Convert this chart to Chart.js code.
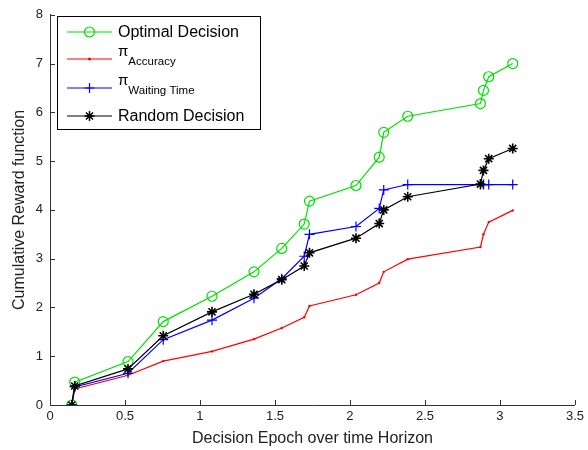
<!DOCTYPE html>
<html>
<head>
<meta charset="utf-8">
<script src="https://cdn.jsdelivr.net/npm/chart.js@4.4.0/dist/chart.umd.min.js"></script>
<style>
html,body{margin:0;padding:0;background:#fff;}
#wrap{position:relative;width:588px;height:450px;}
</style>
</head>
<body>
<div id="wrap"><canvas id="c" width="588" height="450"></canvas></div>
<script>
const epochs = [0.145, 0.165, 0.52, 0.755, 1.08, 1.36, 1.545, 1.695, 1.73, 2.04, 2.195, 2.225, 2.385, 2.87, 2.89, 2.925, 3.085];
const optimalDecision = [0, 0.47, 0.89, 1.71, 2.23, 2.73, 3.21, 3.71, 4.18, 4.5, 5.08, 5.59, 5.92, 6.18, 6.45, 6.73, 7.0];
const piAccuracy = [0, 0.33, 0.61, 0.9, 1.1, 1.35, 1.58, 1.8, 2.03, 2.26, 2.5, 2.73, 2.99, 3.24, 3.5, 3.75, 3.99];
const piWaitingTime = [0, 0.37, 0.65, 1.34, 1.74, 2.19, 2.59, 3.05, 3.5, 3.66, 4.03, 4.41, 4.52, 4.52, 4.52, 4.52, 4.52];
const randomDecision = [0, 0.39, 0.74, 1.42, 1.91, 2.27, 2.57, 2.85, 3.12, 3.42, 3.72, 4.0, 4.27, 4.53, 4.81, 5.05, 5.26];
const xTicks = [0, 0.5, 1, 1.5, 2, 2.5, 3, 3.5];
const yTicks = [0, 1, 2, 3, 4, 5, 6, 7, 8];
const xTitle = 'Decision Epoch over time Horizon';
const yTitle = 'Cumulative Reward function';
const legendItems = [
  {main: 'Optimal Decision', sub: '', color: '#00e000', style: 'circle', r: 5},
  {main: 'π', sub: 'Accuracy', color: '#ff0000', style: 'dot', r: 1.5},
  {main: 'π', sub: 'Waiting Time', color: '#0000ff', style: 'cross', r: 5},
  {main: 'Random Decision', sub: '', color: '#000000', style: 'star', r: 5}
];

const FONT = '"Liberation Sans", Arial, Helvetica, sans-serif';
const pts = arr => epochs.map((x, i) => ({x: x, y: arr[i]}));

const innerTicks = {
  id: 'innerTicks',
  afterDraw(chart) {
    const ctx = chart.ctx, xs = chart.scales.x, ys = chart.scales.y;
    const a = chart.chartArea;
    ctx.save();
    ctx.strokeStyle = '#333';
    ctx.lineWidth = 1;
    ctx.beginPath();
    xTicks.forEach(v => {
      const px = Math.round(xs.getPixelForValue(v)) + 0.5;
      ctx.moveTo(px, a.bottom); ctx.lineTo(px, a.bottom - 5);
    });
    yTicks.forEach(v => {
      const py = Math.round(ys.getPixelForValue(v)) + 0.5;
      ctx.moveTo(a.left, py); ctx.lineTo(a.left + 5, py);
    });
    ctx.stroke();
    ctx.restore();
  }
};

function drawMarker(ctx, style, x, y, r, color) {
  ctx.save();
  ctx.strokeStyle = color; ctx.fillStyle = color;
  ctx.beginPath();
  if (style === 'circle') {
    ctx.lineWidth = 1.2;
    ctx.arc(x, y, r, 0, Math.PI * 2); ctx.stroke();
  } else if (style === 'dot') {
    ctx.arc(x, y, r, 0, Math.PI * 2); ctx.fill();
  } else if (style === 'cross') {
    ctx.lineWidth = 1.2;
    ctx.moveTo(x - r, y); ctx.lineTo(x + r, y);
    ctx.moveTo(x, y - r); ctx.lineTo(x, y + r); ctx.stroke();
  } else if (style === 'star') {
    ctx.lineWidth = 1.5;
    for (let k = 0; k < 4; k++) {
      const ang = k * Math.PI / 4;
      ctx.moveTo(x - r * Math.cos(ang), y - r * Math.sin(ang));
      ctx.lineTo(x + r * Math.cos(ang), y + r * Math.sin(ang));
    }
    ctx.stroke();
  }
  ctx.restore();
}

const customLegend = {
  id: 'customLegend',
  afterDraw(chart) {
    const ctx = chart.ctx;
    const bx = 57.5, by = 16.5, bw = 203, bh = 113;
    ctx.save();
    ctx.fillStyle = '#fff';
    ctx.fillRect(bx, by, bw, bh);
    ctx.strokeStyle = '#000';
    ctx.lineWidth = 1;
    ctx.strokeRect(bx, by, bw, bh);
    const rows = [32, 59, 88, 116];
    legendItems.forEach((it, i) => {
      const y = rows[i];
      ctx.strokeStyle = it.color;
      ctx.lineWidth = 1.2;
      ctx.beginPath(); ctx.moveTo(67, y); ctx.lineTo(112, y); ctx.stroke();
      drawMarker(ctx, it.style, 89.5, y, it.r, it.color);
      ctx.fillStyle = '#000';
      ctx.textBaseline = 'middle';
      ctx.textAlign = 'left';
      if (!it.sub) {
        ctx.font = '16px ' + FONT;
        ctx.fillText(it.main, 118, y + 1);
      } else {
        ctx.font = '15px ' + FONT;
        ctx.fillText(it.main, 118, y - 7);
        const w = ctx.measureText(it.main).width;
        ctx.font = '11.5px ' + FONT;
        ctx.fillText(it.sub, 118 + w, y + 3);
      }
    });
    ctx.restore();
  }
};

new Chart(document.getElementById('c'), {
  type: 'line',
  data: {
    datasets: [
      {label: 'Optimal Decision', data: pts(optimalDecision), borderColor: '#00e000', backgroundColor: 'rgba(0,0,0,0)',
       pointStyle: 'circle', pointRadius: 5, pointBorderWidth: 1.2, pointBorderColor: '#00e000', borderWidth: 1.2, order: 3},
      {label: 'πAccuracy', data: pts(piAccuracy), borderColor: '#ff0000', backgroundColor: '#ff0000',
       pointStyle: 'circle', pointRadius: 1.2, pointBorderWidth: 0, borderWidth: 1.2, order: 2},
      {label: 'πWaiting Time', data: pts(piWaitingTime), borderColor: '#0000ff', backgroundColor: '#0000ff',
       pointStyle: 'cross', pointRadius: 5, pointBorderWidth: 1.2, pointBorderColor: '#0000ff', borderWidth: 1.2, order: 1},
      {label: 'Random Decision', data: pts(randomDecision), borderColor: '#000000', backgroundColor: '#000000',
       pointStyle: 'star', pointRadius: 5, pointBorderWidth: 1.6, pointBorderColor: '#000000', borderWidth: 1.2, order: 0}
    ]
  },
  options: {
    responsive: false,
    animation: false,
    events: [],
    layout: {padding: {top: 14, right: 13, left: 0, bottom: 0}},
    plugins: {legend: {display: false}, tooltip: {enabled: false}},
    elements: {line: {tension: 0}},
    scales: {
      x: {
        type: 'linear', min: 0, max: 3.5,
        afterBuildTicks: s => { s.ticks = xTicks.map(v => ({value: v})); },
        afterFit: s => { s.height = 45; },
        grid: {display: false, drawTicks: false},
        border: {display: true, color: '#333', width: 1},
        ticks: {color: '#222', font: {family: FONT, size: 13}, padding: 4, maxRotation: 0,
                callback: v => String(v)},
        title: {display: true, text: xTitle, color: '#222', font: {family: FONT, size: 16}, padding: {top: 0, bottom: 2}}
      },
      y: {
        type: 'linear', min: 0, max: 8,
        afterBuildTicks: s => { s.ticks = yTicks.map(v => ({value: v})); },
        afterFit: s => { s.width = 50; },
        grid: {display: false, drawTicks: false},
        border: {display: true, color: '#333', width: 1},
        ticks: {color: '#222', font: {family: FONT, size: 13}, padding: 7, callback: v => String(v)},
        title: {display: true, text: yTitle, color: '#222', font: {family: FONT, size: 16}, padding: {top: 10, bottom: 0}}
      }
    }
  },
  plugins: [innerTicks, customLegend]
});
</script>
</body>
</html>
